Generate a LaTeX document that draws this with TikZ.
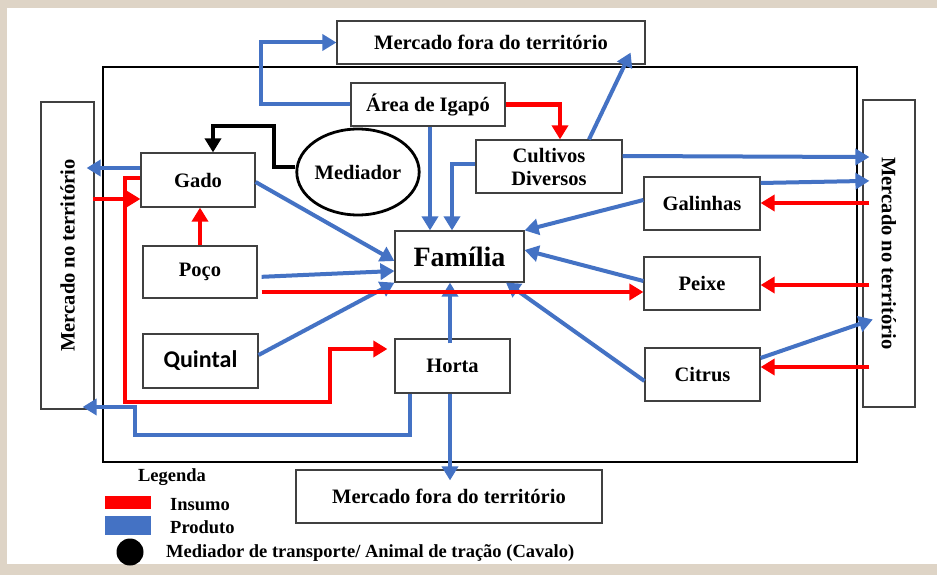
\documentclass[tikz,border=0pt]{standalone}
\usepackage{fontspec}
\setmainfont{Liberation Serif}
\newfontfamily\calibfont{Carlito}
\usetikzlibrary{arrows.meta,shapes.geometric}

\definecolor{prodblue}{RGB}{68,114,196}
\definecolor{insred}{RGB}{255,0,0}
\definecolor{fundo}{RGB}{222,212,198}

\tikzset{
	caixa/.style = {draw=black!75, line width=1.2pt, fill=white, inner sep=0pt,
		font=\bfseries\fontsize{20.5}{23}\selectfont, align=center},
	produto/.style = {draw=prodblue, line width=4pt, -{Triangle[length=14pt,width=16pt]}},
	insumo/.style = {draw=insred, line width=4.2pt, -{Triangle[length=14pt,width=16pt]}},
	mediacao/.style = {draw=black, line width=3.6pt, -{Triangle[length=14pt,width=16pt]}},
	legtexto/.style = {anchor=west, inner sep=0pt, font=\bfseries\fontsize{18.5}{21}\selectfont}
}

\begin{document}
\begin{tikzpicture}[x=1pt, y=-1pt]
		\fill[fundo] (0,0) rectangle (937,575);
		\fill[white] (7,8) rectangle (937,564);
		\useasboundingbox (0,0) rectangle (937,575);
		% territorio
		\draw[line width=2.6pt] (103,67) rectangle (857,462);

		\node[caixa, minimum width=308pt, minimum height=43pt] (foraA) at (491,42.5) {Mercado fora do território};
		\node[caixa, minimum width=306pt, minimum height=53pt] (foraB) at (449,496.5) {Mercado fora do território};
		\node[caixa, rotate=90, minimum width=307pt, minimum height=53pt] (mercEsq) at (67.5,255.5) {Mercado no território};
		\node[caixa, rotate=-90, minimum width=307pt, minimum height=52pt] (mercDir) at (889,253.5) {Mercado no território};

		\node[caixa, minimum width=154pt, minimum height=43pt] (igapo) at (428,104.5) {Área de Igapó};
		\node[draw, ellipse, line width=2.8pt, fill=white, inner sep=0pt, minimum width=108pt, minimum height=86pt,
			font=\bfseries\fontsize{20.5}{23}\selectfont] (mediador) at (358,172) {Mediador};
		\node[caixa, minimum width=146pt, minimum height=53pt] (cultivos) at (549,166.5) {Cultivos\\Diversos};
		\node[caixa, minimum width=114pt, minimum height=54pt] (gado) at (198,180) {Gado};
		\node[caixa, minimum width=116pt, minimum height=53pt] (galinhas) at (702,203.5) {Galinhas};
		\node[caixa, minimum width=129pt, minimum height=51pt, font=\bfseries\fontsize{28}{30}\selectfont] (familia) at (459.5,256.5) {Família};
		\node[caixa, minimum width=114pt, minimum height=52pt] (poco) at (200,272) {Poço};
		\node[caixa, minimum width=116pt, minimum height=53pt] (peixe) at (702,283.5) {Peixe};
		\node[caixa, minimum width=115pt, minimum height=54pt, font=\calibfont\bfseries\fontsize{24}{26}\selectfont] (quintal) at (200.5,361) {Quintal};
		\node[caixa, minimum width=115pt, minimum height=54pt] (horta) at (452.5,366) {Horta};
		\node[caixa, minimum width=115pt, minimum height=53pt] (citrus) at (702.5,374.5) {Citrus};

		% produtos
		\draw[produto] (igapo.west) -- ++(-89,0) |- (foraA.west);
		\draw[produto] (igapo.south -| 430,0) -- (familia.north -| 430,0);
		\draw[produto] (cultivos.west |- 0,164) -| (familia.north -| 452,0);
		\draw[produto] (cultivos.north -| 589,0) -- ([xshift=-15pt,yshift=12pt]foraA.south east);
		\draw[produto, shorten >=-7pt] (cultivos.east |- 0,156) -- (mercDir.south |- 0,157);
		\draw[produto, shorten >=-7pt] (galinhas.east |- 0,183) -- (mercDir.south |- 0,181);
		\draw[produto] (galinhas.west |- 0,200) -- (familia.north east);
		\draw[produto] (peixe.west |- 0,281) -- (familia.east |- 0,250);
		\draw[produto] (citrus.west |- 0,381) -- (familia.south -| 506,0);
		\draw[produto, shorten >=-11pt] (citrus.east |- 0,358) -- (mercDir.south |- 0,323);
		\draw[produto] (gado.east |- 0,182) -- (familia.west |- 0,261);
		\draw[produto, shorten <=4pt] (poco.east |- 0,277) -- (familia.west |- 0,271);
		\draw[produto] (quintal.east |- 0,355) -- (familia.south west);
		\draw[produto, shorten <=-5pt] (horta.north -| 450,0) -- (familia.south -| 450,0);
		\draw[produto, shorten >=-11pt] (horta.south -| 450,0) -- (foraB.north -| 450,0);
		\draw[produto, shorten >=-12pt] (horta.south -| 410,0) |- (135,435) |- (mercEsq.south |- 0,407);
		\draw[produto, shorten >=-8pt] (gado.west |- 0,168) -- (mercEsq.south |- 0,168);

		% insumos
		\draw[insumo] (igapo.east) -| (cultivos.north -| 560,0);
		\draw[insumo] (poco.north) -- (gado.south -| poco.north);
		\draw[insumo, shorten <=-2pt] (mercEsq.south |- 0,199) -- (gado.west |- 0,199);
		\draw[insumo, shorten >=7pt] (gado.west |- 0,178) -| (125,402) -| (330,349) -- (horta.west |- 0,349);
		\draw[insumo, shorten <=4pt] (poco.east |- 0,292) -- (peixe.west |- 0,292);
		\draw[insumo, shorten <=-7pt] (mercDir.south |- 0,203) -- (galinhas.east |- 0,203);
		\draw[insumo, shorten <=-7pt] (mercDir.south |- 0,285) -- (peixe.east |- 0,285);
		\draw[insumo, shorten <=-7pt] (mercDir.south |- 0,367) -- (citrus.east |- 0,367);

		% mediador
		\draw[mediacao] (mediador.west |- 0,167) -| (274,126) -| (gado.north -| 213,0);

		% legenda
		\node[legtexto, anchor=center] (legenda) at (172,477) {Legenda};
		\node[fill=insred, minimum width=46pt, minimum height=13pt, inner sep=0pt] (chaveIns) at (128,502.5) {};
		\node[fill=prodblue, minimum width=46pt, minimum height=19pt, inner sep=0pt] (chaveProd) at (128,525.5) {};
		\node[circle, fill=black, minimum size=27pt, inner sep=0pt] (chaveMed) at (130,552) {};
		\node[legtexto] (txtIns) at (170,505) {Insumo};
		\node[legtexto] (txtProd) at (170,527) {Produto};
		\node[legtexto] (txtMed) at (166,553) {Mediador de transporte/ Animal de tração (Cavalo)};
\end{tikzpicture}
\end{document}
